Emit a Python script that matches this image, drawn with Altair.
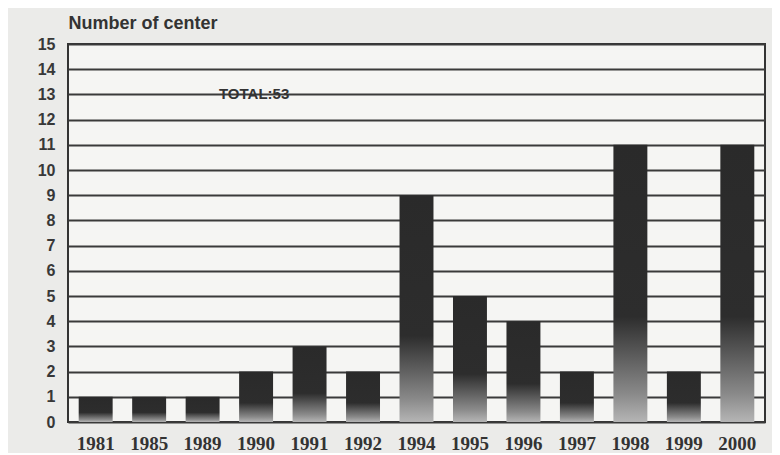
import altair as alt
import pandas as pd

years = ["1981", "1985", "1989", "1990", "1991", "1992", "1994",
         "1995", "1996", "1997", "1998", "1999", "2000"]
centers = [1, 1, 1, 2, 3, 2, 9, 5, 4, 2, 11, 2, 11]
y_ticks = list(range(0, 16))
note_text = ["TOTAL:53"]
note_year = ["1990"]
note_level = [13]

df = pd.DataFrame({"year": years, "n": centers})
note_df = pd.DataFrame({"year": note_year, "n": note_level, "t": note_text})

grad = alt.Gradient(
    gradient="linear",
    stops=[
        alt.GradientStop(color="#2a2a2a", offset=0),
        alt.GradientStop(color="#2d2d2d", offset=0.62),
        alt.GradientStop(color="#8a8a8a", offset=0.9),
        alt.GradientStop(color="#b5b5b5", offset=1),
    ],
    x1=0, x2=0, y1=0, y2=1,
)

x_axis = alt.Axis(labelAngle=0, ticks=False, domain=False, labelPadding=12,
                  labelFont="Liberation Serif", labelFontSize=19,
                  labelFontWeight="bold", labelColor="#333333")
y_axis = alt.Axis(values=y_ticks, title="Number of center", titleAngle=0,
                  titleX=0, titleY=-16, titleAlign="left",
                  titleBaseline="alphabetic", titleFont="Liberation Sans",
                  titleFontSize=18, titleFontWeight="bold", titleColor="#333333",
                  ticks=False, domain=False, labelPadding=13, labelOverlap=False,
                  labelFont="Liberation Sans", labelFontSize=16,
                  labelFontWeight="bold", labelColor="#383838",
                  grid=True, gridColor="#3a3a3a", gridWidth=2, gridOpacity=1)
x_scale = alt.Scale(paddingInner=0.365, paddingOuter=0.2)
y_scale = alt.Scale(domain=[0, 15], nice=False)

bars = alt.Chart(df).mark_bar(color=grad).encode(
    x=alt.X("year:N", sort=years, title=None, scale=x_scale, axis=x_axis),
    y=alt.Y("n:Q", title="Number of center", scale=y_scale, axis=y_axis),
)

note = alt.Chart(note_df).mark_text(
    font="Liberation Sans", fontSize=15, fontWeight="bold",
    color="#333333", baseline="middle", align="center", dx=-2,
).encode(
    x=alt.X("year:N", sort=years, title=None, scale=x_scale, axis=x_axis),
    y=alt.Y("n:Q", title="Number of center", scale=y_scale, axis=y_axis),
    text="t:N",
)

chart = (bars + note).properties(
    width=697, height=378,
    autosize=alt.AutoSizeParams(type="none"),
    padding={"left": 60, "top": 36, "right": 7, "bottom": 31},
    background="#ebebe9",
).configure_view(
    fill="#f5f5f3", stroke="#333333", strokeWidth=2,
)

chart.save("out.html", embed_options={"renderer": "svg", "actions": False})
